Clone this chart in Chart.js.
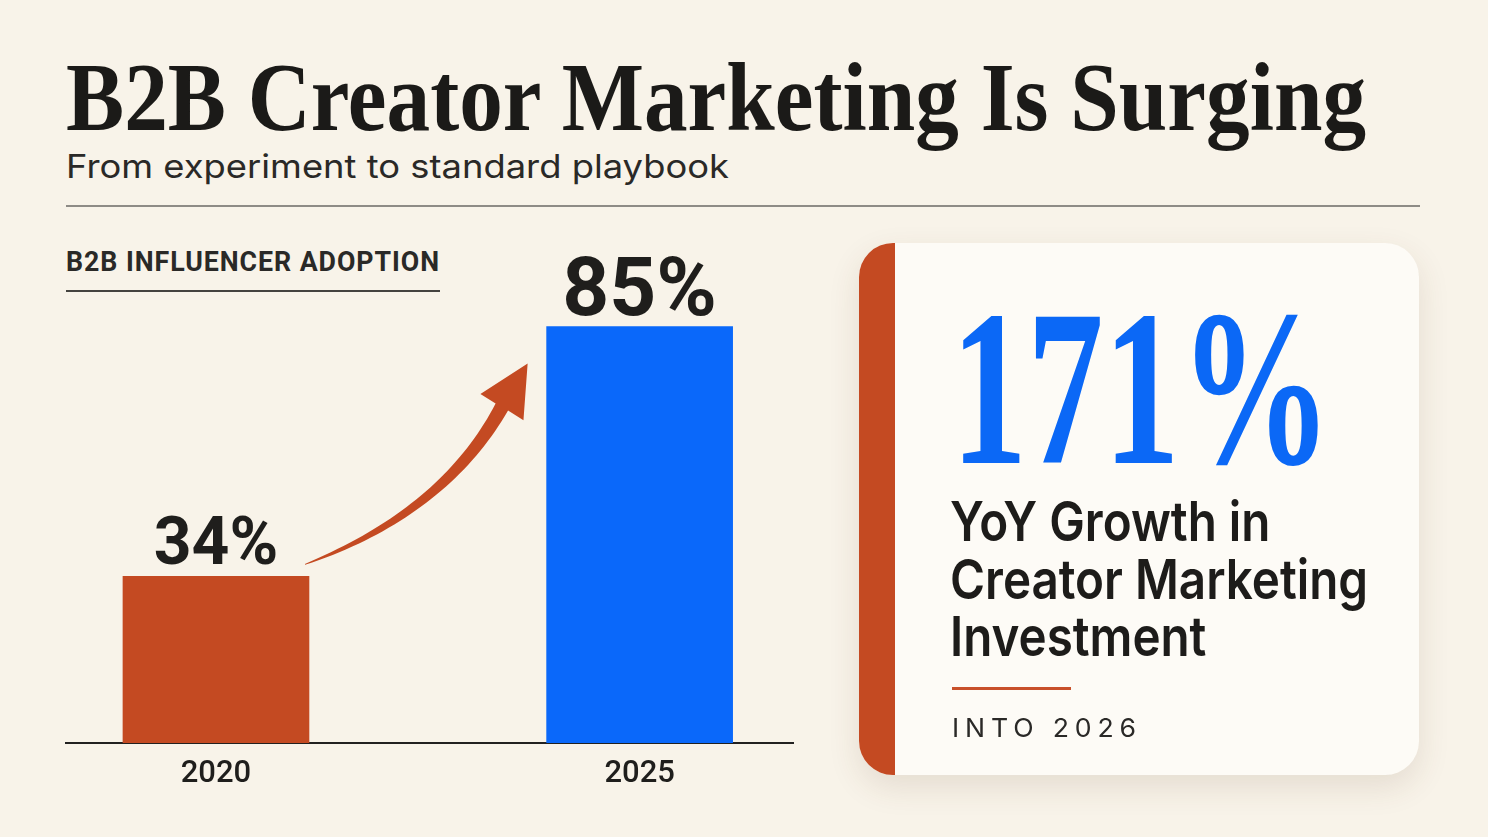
<!DOCTYPE html>
<html lang="en">
<head>
<meta charset="utf-8">
<title>B2B Creator Marketing Is Surging</title>
<script src="https://cdn.jsdelivr.net/npm/chart.js@4.4.1/dist/chart.umd.min.js"></script>
<style>
    html, body { margin: 0; padding: 0; }
    body {
        width: 1488px;
        height: 837px;
        overflow: hidden;
        position: relative;
        background: #f8f3e9;
        color: #1d1c1a;
    }
    .abs { position: absolute; white-space: nowrap; transform-origin: 0 0; }
    .fit { display: inline-block; }

    #title {
        left: 66px; top: 48px;
        font: 700 98px/98px "Liberation Serif", serif;
        color: #1b1a18;
    }
    #subtitle {
        left: 66px; top: 150px;
        font: 400 33px/33px Inter, sans-serif;
        color: #2a2927;
    }
    #rule { left: 66px; top: 205px; width: 1354px; height: 2px; background: #8e8b86; }

    #sectionLabel {
        left: 66px; top: 248px;
        font: 700 28px/28px Roboto, sans-serif;
        letter-spacing: 1px;
        color: #2a2927;
    }
    #sectionRule { left: 66px; top: 290px; width: 374px; height: 2px; background: #45433f; }

    #chartBox { position: absolute; left: 0; top: 230px; width: 850px; height: 600px; }

    #card {
        position: absolute;
        left: 859px; top: 243px; width: 560px; height: 532px;
        border-radius: 34px;
        background: #fdfbf6;
        box-shadow: 0 12px 32px rgba(90, 60, 30, 0.12);
        overflow: hidden;
    }
    #cardStrip { position: absolute; left: 0; top: 0; width: 36px; height: 100%; background: #c44a22; }

    #bigStat {
        left: 951px; top: 276px;
        font: 700 223px/223px "Liberation Serif", serif;
        color: #0b68f6;
    }
    #statText {
        left: 950px; top: 493px;
        font: 600 55px/57.5px Inter, sans-serif;
        color: #1d1c1a;
    }
    #statRule { left: 952px; top: 687px; width: 119px; height: 3px; background: #c8502a; }
    #statFoot {
        left: 952px; top: 715px;
        font: 400 26px/26px Inter, sans-serif;
        letter-spacing: 0.22em;
        color: #2a2927;
    }
</style>
</head>
<body>

<div id="title" class="abs fit">B2B Creator Marketing Is Surging</div>
<div id="subtitle" class="abs fit">From experiment to standard playbook</div>
<div id="rule" class="abs"></div>

<div id="sectionLabel" class="abs fit">B2B INFLUENCER ADOPTION</div>
<div id="sectionRule" class="abs"></div>

<div id="chartBox"><canvas id="adoptionChart"></canvas></div>

<div id="card"><div id="cardStrip"></div></div>
<div id="bigStat" class="abs fit">171%</div>
<div id="statText" class="abs fit">YoY Growth in<br>Creator Marketing<br>Investment</div>
<div id="statRule" class="abs"></div>
<div id="statFoot" class="abs fit">INTO 2026</div>

<script>
// Data
const years = [2020, 2025];
const adoption = [34, 85];
const valueLabels = adoption.map(v => v + '%');

// Styling
const barColors = ['#c44a22', '#0a68fa'];
const labelSizes = [66, 82];
const inkColor = '#1f1e1c';

/**
 * Stretch/squeeze a text block to a given width
 */
function fitWidth(id, target) {
    const el = document.getElementById(id);
    const w = el.getBoundingClientRect().width;
    el.style.transform = 'scaleX(' + (target / w) + ')';
}

/**
 * Percent labels above bars
 */
const valueLabelPlugin = {
    id: 'valueLabels',
    afterDatasetsDraw(chart) {
        const ctx = chart.ctx;
        chart.getDatasetMeta(0).data.forEach((bar, i) => {
            ctx.save();
            ctx.font = '700 ' + labelSizes[i] + 'px Roboto';
            ctx.fillStyle = inkColor;
            ctx.textAlign = 'center';
            ctx.textBaseline = 'alphabetic';
            ctx.fillText(valueLabels[i], bar.x, bar.y - 12);
            ctx.restore();
        });
    }
};

/**
 * Curved arrow from the first bar up to the second
 */
const growthArrowPlugin = {
    id: 'growthArrow',
    afterDatasetsDraw(chart) {
        const bars = chart.getDatasetMeta(0).data;
        if (bars.length < 2) return;
        const a = bars[0], b = bars[1];

        // tail near top-right of first bar, tip near top-left of second
        const T = { x: a.x + a.width / 2 - 4, y: a.y - 12 };
        const H = { x: b.x - b.width / 2 - 19, y: b.y + 37 };
        const D = { x: H.x - T.x, y: H.y - T.y };
        const N = { x: -D.y, y: D.x };
        const at = (u, v) => ({ x: T.x + D.x * u + N.x * v, y: T.y + D.y * u + N.y * v });

        const C = at(0.461, 0.182);
        const B = at(0.839, 0.050);
        const W1 = at(0.815, -0.030);
        const W2 = at(0.863, 0.131);

        const upper = [], lower = [];
        const steps = 40;
        for (let i = 0; i <= steps; i++) {
            const t = i / steps;
            const mt = 1 - t;
            const px = mt * mt * T.x + 2 * mt * t * C.x + t * t * B.x;
            const py = mt * mt * T.y + 2 * mt * t * C.y + t * t * B.y;
            let tx = 2 * mt * (C.x - T.x) + 2 * t * (B.x - C.x);
            let ty = 2 * mt * (C.y - T.y) + 2 * t * (B.y - C.y);
            const len = Math.hypot(tx, ty);
            tx /= len; ty /= len;
            const nx = -ty, ny = tx;
            const hw = 0.3 + 6.8 * Math.pow(t, 0.7);
            upper.push({ x: px - nx * hw, y: py - ny * hw });
            lower.push({ x: px + nx * hw, y: py + ny * hw });
        }

        const ctx = chart.ctx;
        ctx.save();
        ctx.fillStyle = barColors[0];
        ctx.beginPath();
        ctx.moveTo(upper[0].x, upper[0].y);
        upper.forEach(p => ctx.lineTo(p.x, p.y));
        ctx.lineTo(W1.x, W1.y);
        ctx.lineTo(H.x, H.y);
        ctx.lineTo(W2.x, W2.y);
        for (let i = lower.length - 1; i >= 0; i--) ctx.lineTo(lower[i].x, lower[i].y);
        ctx.closePath();
        ctx.fill();
        ctx.restore();
    }
};

function initAdoptionChart() {
    const canvas = document.getElementById('adoptionChart');
    if (!canvas) return;

    new Chart(canvas.getContext('2d'), {
        type: 'bar',
        data: {
            datasets: [{
                label: 'B2B influencer adoption',
                data: years.map((y, i) => ({ x: y, y: adoption[i] })),
                backgroundColor: barColors,
                borderWidth: 0,
                barThickness: 186
            }]
        },
        options: {
            responsive: true,
            maintainAspectRatio: false,
            animation: false,
            layout: {
                padding: { left: 66, right: 57, top: 72, bottom: 0 }
            },
            plugins: {
                legend: { display: false },
                tooltip: { enabled: false }
            },
            scales: {
                x: {
                    type: 'linear',
                    min: 2018.23,
                    max: 2026.81,
                    offset: false,
                    grid: { display: false, drawTicks: false },
                    border: { display: true, color: '#222120', width: 2 },
                    afterBuildTicks: scale => {
                        scale.ticks = years.map(v => ({ value: v }));
                    },
                    afterFit: scale => {
                        scale.height = 87;
                    },
                    ticks: {
                        padding: 13,
                        color: inkColor,
                        font: { family: 'Roboto', size: 31, weight: '500' },
                        callback: v => String(v)
                    }
                },
                y: {
                    display: false,
                    min: 0,
                    max: 90
                }
            }
        },
        plugins: [growthArrowPlugin, valueLabelPlugin]
    });
}

document.addEventListener('DOMContentLoaded', function() {
    fitWidth('title', 1300);
    fitWidth('subtitle', 663);
    fitWidth('sectionLabel', 374);
    fitWidth('bigStat', 381);
    fitWidth('statText', 418);
    fitWidth('statFoot', 190);
    initAdoptionChart();
});
</script>
</body>
</html>
